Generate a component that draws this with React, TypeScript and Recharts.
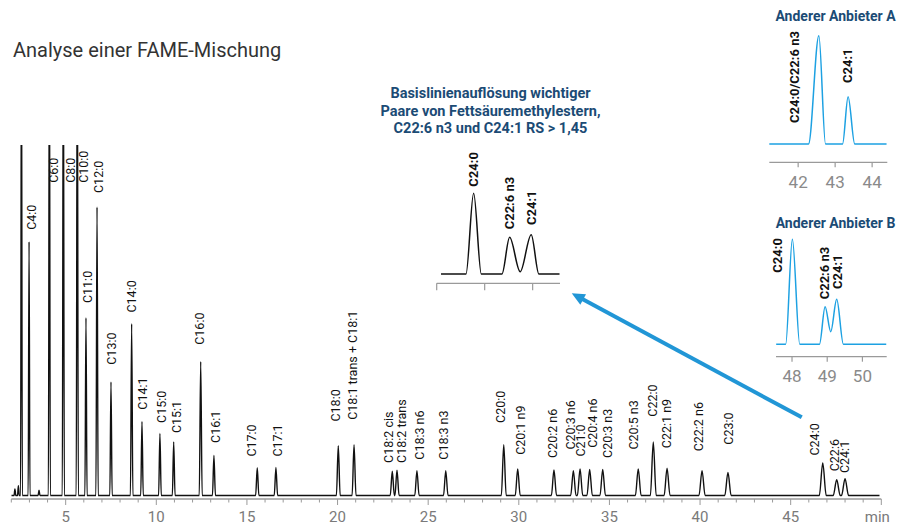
import React from 'react';
import { ComposedChart, Line, XAxis, YAxis, ReferenceDot, ReferenceLine } from 'recharts';

const FONT = 'Roboto, "Noto Sans", Arial, sans-serif';
const W = 909;
const H = 527;

// ---------- Main chromatogram (retention time in min, response in arbitrary units) ----------
const peakTimes = [2.2, 2.39, 2.56, 2.98, 3.53, 4.1, 4.87, 5.64, 6.12, 6.73, 7.5, 8.64, 9.21, 10.2, 10.96, 12.45, 13.18, 15.57, 16.6, 20.04, 20.91, 23.02, 23.28, 24.38, 25.97, 29.17, 29.94, 31.94, 33.01, 33.38, 33.91, 34.63, 36.59, 37.42, 38.18, 40.11, 41.54, 46.77, 47.54, 48.0];
const peakHeights = [1.9, 2.8, 140, 72.4, 1.5, 140, 140, 140, 50.7, 82.3, 32.4, 49.0, 21.1, 17.7, 15.3, 38.2, 11.4, 7.9, 8.0, 14.2, 14.5, 6.9, 7.2, 7.1, 7.1, 14.5, 7.6, 7.3, 7.1, 7.6, 7.4, 7.4, 7.6, 15.3, 7.8, 7.1, 6.6, 9.3, 4.5, 4.8];
const traceStart = 2.0;
const traceEnd = 49.9;

const labelTexts = ['C4:0', 'C6:0', 'C8:0', 'C10:0', 'C11:0', 'C12:0', 'C13:0', 'C14:0', 'C14:1', 'C15:0', 'C15:1', 'C16:0', 'C16:1', 'C17:0', 'C17:1', 'C18:0', 'C18:1 trans + C18:1', 'C18:2 cis', 'C18:2 trans', 'C18:3 n6', 'C18:3 n3', 'C20:0', 'C20:1 n9', 'C20:2 n6', 'C20:3 n6', 'C21:0', 'C20:4 n6', 'C20:3 n3', 'C20:5 n3', 'C22:0', 'C22:1 n9', 'C22:2 n6', 'C23:0', 'C24:0', 'C22:6', 'C24:1'];
const labelTimes = [3.13, 4.32, 5.24, 5.97, 6.2, 6.8, 7.54, 8.64, 9.25, 10.26, 11.09, 12.41, 13.24, 15.26, 16.68, 19.86, 20.84, 22.8, 23.54, 24.51, 25.87, 29.0, 30.07, 31.87, 32.83, 33.38, 34.04, 34.87, 36.32, 37.37, 38.16, 39.94, 41.56, 46.33, 47.43, 47.98];
const labelLevels = [75.8, 89.2, 89.2, 89.2, 54.9, 86.3, 37.3, 52.2, 24.5, 20.7, 17.8, 43.0, 15.0, 11.1, 11.1, 21.1, 21.6, 9.3, 9.3, 10.2, 10.2, 20.7, 11.6, 10.7, 13.1, 11.1, 13.6, 10.7, 13.1, 22.5, 13.5, 12.6, 14.5, 11.4, 6.9, 6.4];

const mainTicks = [2, 3, 4, 5, 6, 7, 8, 9, 10, 11, 12, 13, 14, 15, 16, 17, 18, 19, 20, 21, 22, 23, 24, 25, 26, 27, 28, 29, 30, 31, 32, 33, 34, 35, 36, 37, 38, 39, 40, 41, 42, 43, 44, 45, 46, 47, 48, 49, 50];

// arrow annotation (from near C24:0 region up to the zoomed inset), in main-chart data units
const arrowFrom = { t: 45.61, v: 22.3 };
const arrowTo = { t: 32.92, v: 57.7 };

// ---------- Inset: own column, zoom 46-48.6 min ----------
const midTimes = [46.09, 46.61, 46.77, 46.93, 47.36, 47.52, 47.74, 47.97, 48.13, 48.56];
const midValues = [0, 0, 80.7, 0, 0, 36.7, 2.3, 39.3, 0, 0];
const midLabelTexts = ['C24:0', 'C22:6 n3', 'C24:1'];
const midLabelTimes = [46.77, 47.52, 47.97];
const midLabelLevels = [87.3, 44.7, 49.0];
const midTicks = [46, 47, 48];

// ---------- Inset: Anderer Anbieter A ----------
const aTimes = [41.2, 42.28, 42.56, 42.74, 43.2, 43.35, 43.53, 44.39];
const aValues = [0, 0, 108.3, 0, 0, 47.3, 0, 0];
const aLabelTexts = ['C24:0/C22:6 n3', 'C24:1'];
const aLabelTimes = [41.91, 43.34];
const aLabelLevels = [21, 61];
const aTicks = [42, 43, 44];

// ---------- Inset: Anderer Anbieter B ----------
const bTimes = [47.55, 47.82, 48.01, 48.22, 48.78, 48.94, 49.1, 49.27, 49.46, 50.68];
const bValues = [0, 0, 105, 0, 0, 37.6, 12.6, 45, 0, 0];
const bLabelTexts = ['C24:0', 'C22:6 n3', 'C24:1'];
const bLabelTimes = [47.59, 48.91, 49.3];
const bLabelLevels = [71.6, 45, 55.3];
const bTicks = [48, 49, 50];

// peak half-width at the baseline grows with retention time (column broadening)
const halfWidth = (t: number) => 0.04 + 0.0032 * t;

function buildTrace() {
  const pts: { t: number; v: number }[] = [{ t: traceStart, v: 0 }];
  peakTimes.forEach((t, i) => {
    const w = halfWidth(t);
    pts.push({ t: t - w, v: 0 }, { t, v: peakHeights[i] }, { t: t + w, v: 0 });
  });
  pts.push({ t: traceEnd, v: 0 });
  return pts;
}

const rotText = (text: string, size: number, weight: number | string, fill: string) => (p: any) => (
  <text
    x={p.cx}
    y={p.cy}
    transform={`rotate(-90 ${p.cx} ${p.cy})`}
    textAnchor="start"
    dy="0.36em"
    fontSize={size}
    fontWeight={weight}
    fill={fill}
    fontFamily={FONT}
  >
    {text}
  </text>
);

const ArrowShape = (p: any) => {
  const { x1, y1, x2, y2 } = p;
  const dx = x2 - x1;
  const dy = y2 - y1;
  const len = Math.hypot(dx, dy) || 1;
  const ux = dx / len;
  const uy = dy / len;
  const headLen = 13;
  const headW = 6;
  const bx = x2 - ux * headLen;
  const by = y2 - uy * headLen;
  const px = -uy;
  const py = ux;
  return (
    <g>
      <line x1={x1} y1={y1} x2={bx + ux * 2} y2={by + uy * 2} stroke="#2196d6" strokeWidth={4} />
      <polygon
        points={`${x2},${y2} ${bx + px * headW},${by + py * headW} ${bx - px * headW},${by - py * headW}`}
        fill="#2196d6"
      />
    </g>
  );
};

const MainTick = (props: any) => {
  const { x, y, payload } = props;
  const v = payload.value;
  const major = v % 5 === 0;
  return (
    <g>
      <line x1={x} x2={x} y1={y} y2={y + (major ? 6 : 3.5)} stroke="#9a9a9a" strokeWidth={1} />
      {major && (
        <text x={v === 50 ? x - 4 : x} y={y + 23} textAnchor="middle" fontSize={15} fill="#7a7a7a" fontFamily={FONT}>
          {v === 50 ? 'min' : v}
        </text>
      )}
    </g>
  );
};

function MainChart() {
  const trace = buildTrace();
  const plot = { left: 11.3, right: 881.3, top: 145, bottom: 499 };
  const axisH = 28;
  return (
    <div style={{ position: 'absolute', left: 0, top: 0 }}>
      <ComposedChart
        width={W}
        height={H}
        margin={{ left: plot.left, right: W - plot.right, top: plot.top, bottom: H - plot.bottom - axisH }}
      >
        <XAxis
          dataKey="t"
          type="number"
          domain={[2, 50]}
          ticks={mainTicks}
          interval={0}
          tick={MainTick}
          tickLine={false}
          tickSize={0}
          tickMargin={0}
          axisLine={{ stroke: '#9a9a9a', strokeWidth: 1.5 }}
          height={axisH}
          allowDataOverflow
        />
        <YAxis type="number" domain={[-1, 100]} allowDataOverflow hide width={0} />
        <Line
          data={trace}
          dataKey="v"
          type="monotone"
          stroke="#111"
          strokeWidth={1.4}
          dot={false}
          activeDot={false}
          isAnimationActive={false}
        />
        {labelTexts.map((txt, i) => (
          <ReferenceDot
            key={txt + i}
            x={labelTimes[i]}
            y={labelLevels[i]}
            r={0}
            ifOverflow="visible"
            shape={rotText(txt, 12.5, 400, '#111')}
          />
        ))}
        <ReferenceLine
          segment={[
            { x: arrowFrom.t, y: arrowFrom.v },
            { x: arrowTo.t, y: arrowTo.v },
          ]}
          ifOverflow="visible"
          shape={ArrowShape}
        />
      </ComposedChart>
    </div>
  );
}

type InsetProps = {
  times: number[];
  values: number[];
  labelTexts: string[];
  labelTimes: number[];
  labelLevels: number[];
  ticks: number[];
  xDomain: [number, number];
  yDomain: [number, number];
  box: { left: number; right: number; top: number; bottom: number };
  tickLen: number;
  showTickLabels: boolean;
  lineColor: string;
};

function Inset(p: InsetProps) {
  const data = p.times.map((t, i) => ({ t, v: p.values[i] }));
  const axisH = 40;
  const Tick = (props: any) => {
    const { x, y, payload } = props;
    return (
      <g>
        <line x1={x} x2={x} y1={y} y2={y + p.tickLen} stroke="#9a9a9a" strokeWidth={1.2} />
        {p.showTickLabels && (
          <text x={x} y={y + 25.5} textAnchor="middle" fontSize={17} fill="#8a8a8a" fontFamily={FONT}>
            {payload.value}
          </text>
        )}
      </g>
    );
  };
  return (
    <div style={{ position: 'absolute', left: 0, top: 0, pointerEvents: 'none' }}>
      <ComposedChart
        width={W}
        height={H}
        margin={{ left: p.box.left, right: W - p.box.right, top: p.box.top, bottom: H - p.box.bottom - axisH }}
      >
        <XAxis
          dataKey="t"
          type="number"
          domain={p.xDomain}
          ticks={p.ticks}
          interval={0}
          tick={Tick}
          tickLine={false}
          tickSize={0}
          tickMargin={0}
          axisLine={{ stroke: '#9a9a9a', strokeWidth: 1.2 }}
          height={axisH}
          allowDataOverflow
        />
        <YAxis type="number" domain={p.yDomain} allowDataOverflow hide width={0} />
        <Line
          data={data}
          dataKey="v"
          type="monotone"
          stroke={p.lineColor}
          strokeWidth={1.5}
          dot={false}
          activeDot={false}
          isAnimationActive={false}
        />
        {p.labelTexts.map((txt, i) => (
          <ReferenceDot
            key={txt + i}
            x={p.labelTimes[i]}
            y={p.labelLevels[i]}
            r={0}
            ifOverflow="visible"
            shape={rotText(txt, 13, 700, '#111')}
          />
        ))}
      </ComposedChart>
    </div>
  );
}

function Titles() {
  const navy = '#1b4b75';
  return (
    <svg width={W} height={H} style={{ position: 'absolute', left: 0, top: 0, pointerEvents: 'none' }}>
      <text x={13} y={56.5} fontSize={20} fill="#333" fontFamily={FONT}>
        Analyse einer FAME-Mischung
      </text>
      <g fontFamily={FONT} fontSize={14.5} fontWeight={700} fill={navy} textAnchor="middle">
        <text x={490.5} y={97.5}>Basislinienauflösung wichtiger</text>
        <text x={490.5} y={115.5}>Paare von Fettsäuremethylestern,</text>
        <text x={490.5} y={133}>C22:6 n3 und C24:1 RS &gt; 1,45</text>
      </g>
      <g fontFamily={FONT} fontSize={14} fontWeight={700} fill={navy} textAnchor="middle">
        <text x={835.5} y={21}>Anderer Anbieter A</text>
        <text x={835.5} y={227.5}>Anderer Anbieter B</text>
      </g>
    </svg>
  );
}

export default function App() {
  return (
    <div style={{ position: 'absolute', left: 0, top: 0, width: W, height: H, background: '#fff', fontFamily: FONT }}>
      <MainChart />
      <Inset
        times={midTimes}
        values={midValues}
        labelTexts={midLabelTexts}
        labelTimes={midLabelTimes}
        labelLevels={midLabelLevels}
        ticks={midTicks}
        xDomain={[46.0, 48.57]}
        yDomain={[-9.3, 134]}
        box={{ left: 436.7, right: 560, top: 140, bottom: 283.3 }}
        tickLen={7}
        showTickLabels={false}
        lineColor="#111"
      />
      <Inset
        times={aTimes}
        values={aValues}
        labelTexts={aLabelTexts}
        labelTimes={aLabelTimes}
        labelLevels={aLabelLevels}
        ticks={aTicks}
        xDomain={[41.22, 44.41]}
        yDomain={[-18.3, 119]}
        box={{ left: 769.3, right: 887.3, top: 25, bottom: 162.3 }}
        tickLen={5}
        showTickLabels={true}
        lineColor="#1da1e2"
      />
      <Inset
        times={bTimes}
        values={bValues}
        labelTexts={bLabelTexts}
        labelTimes={bLabelTimes}
        labelLevels={bLabelLevels}
        ticks={bTicks}
        xDomain={[47.545, 50.69]}
        yDomain={[-12.4, 124.3]}
        box={{ left: 776, right: 886.7, top: 220, bottom: 356.7 }}
        tickLen={5}
        showTickLabels={true}
        lineColor="#1da1e2"
      />
      <Titles />
    </div>
  );
}
